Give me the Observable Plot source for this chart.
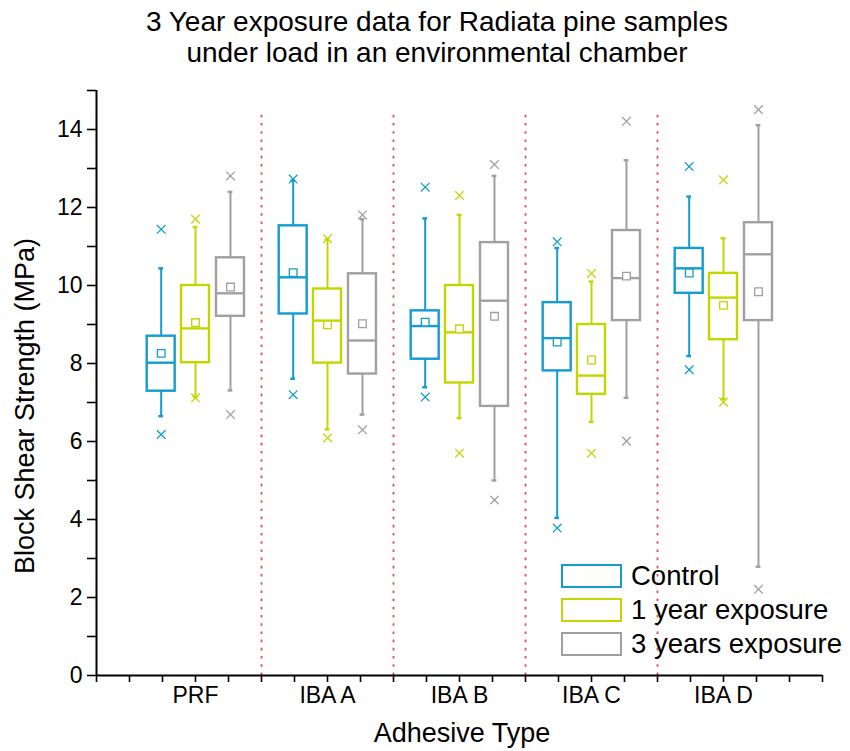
<!DOCTYPE html>
<html>
<head>
<meta charset="utf-8">
<script src="https://cdn.jsdelivr.net/npm/d3@7"></script>
<script src="https://cdn.jsdelivr.net/npm/@observablehq/plot@0.6"></script>
<style>
  body { margin: 0; background: #fff; font-family: "Liberation Sans", Arial, sans-serif; }
  #wrap { position: relative; width: 850px; height: 751px; overflow: hidden; background: #fff; }
  #title { position: absolute; left: 0; top: 6px; width: 874px; text-align: center; font-size: 28px; line-height: 31px; color: #000; }
  #chart { position: absolute; left: 0; top: 75px; }
  #ylab { position: absolute; left: 25px; top: 406px; transform: translate(-50%, -50%) rotate(-90deg); font-size: 27px; white-space: nowrap; color: #000; }
  #xlab { position: absolute; left: 462px; top: 733px; transform: translate(-50%, -50%); font-size: 27px; white-space: nowrap; color: #000; }
  #legend { position: absolute; left: 561px; top: 559px; }
  .row { display: flex; align-items: center; height: 34px; }
  .sw { width: 57px; height: 20px; border: 2.5px solid; background: #fff; margin-right: 9px; }
  .lt { font-size: 27.5px; color: #000; white-space: nowrap; }
</style>
</head>
<body>
<div id="wrap">
  <div id="title">3 Year exposure data for Radiata pine samples<br>under load in an environmental chamber</div>
  <div id="chart"></div>
  <div id="ylab">Block Shear Strength (MPa)</div>
  <div id="xlab">Adhesive Type</div>
  <div id="legend"></div>
</div>
<script>
// ---- data ----
const categories = ["PRF", "IBA A", "IBA B", "IBA C", "IBA D"];
const seriesNames = ["Control", "1 year exposure", "3 years exposure"];
const seriesColors = ["#139CD0", "#C4D600", "#A0A0A0"];
// per category: [outlierLow, whiskerLow, q1, median, q3, whiskerHigh, outlierHigh, mean]
const controlStats = [
  [6.18, 6.65, 7.29, 8.02, 8.70, 10.44, 11.44, 8.26],
  [7.20, 7.61, 9.27, 10.21, 11.53, 12.69, 12.73, 10.33],
  [7.14, 7.39, 8.11, 8.96, 9.35, 11.72, 12.52, 9.06],
  [3.78, 4.04, 7.81, 8.65, 9.56, 10.96, 11.12, 8.55],
  [7.84, 8.19, 9.80, 10.44, 10.95, 12.28, 13.05, 10.32]
];
const oneYearStats = [
  [7.12, 7.14, 8.02, 8.90, 10.00, 11.50, 11.70, 9.05],
  [6.09, 6.31, 8.01, 9.10, 9.91, 11.18, 11.20, 8.99],
  [5.70, 6.60, 7.50, 8.80, 10.00, 11.81, 12.31, 8.89],
  [5.70, 6.50, 7.21, 7.69, 9.00, 10.10, 10.31, 8.09],
  [7.01, 7.09, 8.61, 9.69, 10.31, 11.21, 12.71, 9.49]
];
const threeYearStats = [
  [6.69, 7.31, 9.21, 9.80, 10.71, 12.40, 12.81, 9.96],
  [6.30, 6.69, 7.73, 8.59, 10.30, 11.70, 11.81, 9.02],
  [4.50, 5.00, 6.90, 9.61, 11.10, 12.81, 13.10, 9.21],
  [6.01, 7.12, 9.10, 10.19, 11.41, 13.21, 14.21, 10.24],
  [2.21, 2.79, 9.10, 10.80, 11.61, 14.11, 14.51, 9.84]
];
const yMajorTicks = [0, 2, 4, 6, 8, 10, 12, 14];

// ---- build table ----
const allStats = [controlStats, oneYearStats, threeYearStats];
const offsets = [-0.26, 0.0, 0.265];
const halfW = 0.106;
const capW = 0.018;
const boxes = [];
allStats.forEach((stats, s) => {
  stats.forEach((v, c) => {
    const x = c + 1 + offsets[s];
    boxes.push({series: seriesNames[s], color: seriesColors[s], x, x1: x - halfW, x2: x + halfW,
      oLo: v[0], wLo: v[1], q1: v[2], med: v[3], q3: v[4], wHi: v[5], oHi: v[6], mean: v[7]});
  });
});
const outliers = boxes.flatMap(b => [{x: b.x, y: b.oLo, color: b.color}, {x: b.x, y: b.oHi, color: b.color}]);
const separators = d3.range(1.5, categories.length, 1);

const font = "Liberation Sans, Arial, sans-serif";

const chart = Plot.plot({
  width: 850,
  height: 676,
  marginLeft: 96,
  marginRight: 28,
  marginTop: 15,
  marginBottom: 76,
  style: {fontFamily: font, color: "#000", background: "white", overflow: "visible"},
  x: {type: "linear", domain: [0.25, 5.75]},
  y: {domain: [0, 15]},
  marks: [
    // separators
    Plot.ruleX(separators, {x: d => d, y1: 0, y2: 14.5, stroke: "#D9505E", strokeWidth: 1.8, strokeDasharray: "2.6,5.6"}),
    // whiskers
    Plot.ruleX(boxes, {x: "x", y1: "q3", y2: "wHi", stroke: "color", strokeWidth: 2}),
    Plot.ruleX(boxes, {x: "x", y1: "wLo", y2: "q1", stroke: "color", strokeWidth: 2}),
    Plot.ruleY(boxes, {y: "wHi", x1: d => d.x - capW, x2: d => d.x + capW, stroke: "color", strokeWidth: 2.5}),
    Plot.ruleY(boxes, {y: "wLo", x1: d => d.x - capW, x2: d => d.x + capW, stroke: "color", strokeWidth: 2.5}),
    // boxes
    Plot.rect(boxes, {x1: "x1", x2: "x2", y1: "q1", y2: "q3", stroke: "color", fill: "white", strokeWidth: 2.4}),
    Plot.ruleY(boxes, {y: "med", x1: "x1", x2: "x2", stroke: "color", strokeWidth: 2.4}),
    // mean
    Plot.dot(boxes, {x: "x", y: "mean", symbol: "square", r: 4.3, stroke: "color", fill: "white", strokeWidth: 1.3}),
    // outliers
    Plot.dot(outliers, {x: "x", y: "y", symbol: "times", r: 4, stroke: "color", strokeWidth: 1.3}),
    // axes
    Plot.axisY({ticks: yMajorTicks, tickSize: 9, tickPadding: 5, fontSize: 23, label: null, strokeWidth: 1.6}),
    Plot.axisY({ticks: d3.range(1, 16, 2), tickSize: 9, tickFormat: () => "", label: null, strokeWidth: 1.6}),
    Plot.axisX({ticks: d3.range(0.25, 5.76, 0.25), tickSize: 7, tickPadding: 4, fontSize: 23, label: null, strokeWidth: 1.6,
      tickFormat: d => Number.isInteger(d) ? categories[d - 1] : ""}),
    Plot.ruleX([0.25], {y1: 0, y2: 15, stroke: "#000", strokeWidth: 2}),
    Plot.ruleY([0], {x1: 0.25, x2: 5.75, stroke: "#000", strokeWidth: 2})
  ]
});
document.getElementById("chart").appendChild(chart);

// legend
const legend = document.getElementById("legend");
seriesNames.forEach((name, i) => {
  const row = document.createElement("div");
  row.className = "row";
  const sw = document.createElement("div");
  sw.className = "sw";
  sw.style.borderColor = seriesColors[i];
  const t = document.createElement("span");
  t.className = "lt";
  t.textContent = name;
  row.appendChild(sw); row.appendChild(t);
  legend.appendChild(row);
});
</script>
</body>
</html>
